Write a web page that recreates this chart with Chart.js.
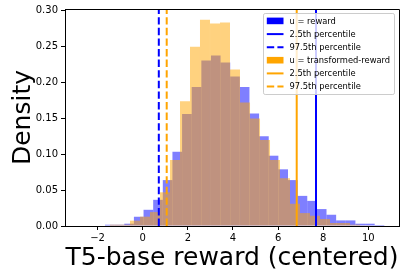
<!DOCTYPE html>
<html>
<head>
<meta charset="utf-8">
<script src="https://cdn.jsdelivr.net/npm/chart.js@4/dist/chart.umd.min.js"></script>
<style>
  html, body { margin: 0; padding: 0; background: #ffffff; }
  #wrap { width: 406px; height: 278px; position: relative; }
</style>
</head>
<body>
<div id="wrap"><canvas id="c" width="406" height="278"></canvas></div>
<script>
// ---- data ----
const rewardBinCenters = [-1.458, -1.031, -0.604, -0.177, 0.250, 0.677, 1.104, 1.531, 1.958, 2.385,
  2.812, 3.238, 3.665, 4.092, 4.519, 4.946, 5.373, 5.800, 6.227, 6.654,
  7.081, 7.507, 7.934, 8.361, 8.788, 9.215, 9.642, 10.069, 10.496];
const rewardDensity = [0.0018, 0.0018, 0.0032, 0.0129, 0.0226, 0.0365, 0.064, 0.1035, 0.156, 0.1937,
  0.2307, 0.2376, 0.2279, 0.2084, 0.1937, 0.157, 0.125, 0.098, 0.079, 0.064,
  0.042, 0.035, 0.0236, 0.0157, 0.0078, 0.0078, 0.0032, 0.0032, 0.0014];

const transformedBinCenters = [-1.228, -0.785, -0.342, 0.101, 0.545, 0.988, 1.431, 1.875, 2.318, 2.761,
  3.205, 3.648, 4.091, 4.535, 4.978, 5.421, 5.864, 6.308, 6.751, 7.194,
  7.638, 8.081, 8.524, 8.968, 9.411, 9.854];
const transformedDensity = [0.0018, 0.0018, 0.0074, 0.013, 0.0194, 0.047, 0.092, 0.1738, 0.25, 0.2875,
  0.2824, 0.2838, 0.2182, 0.172, 0.15, 0.12, 0.092, 0.0666, 0.031, 0.018,
  0.0143, 0.0097, 0.0042, 0.0042, 0.0018, 0.0009];

// vertical percentile lines, in legend order [solid, dashed]
const rewardPercentiles = [7.682, 0.714];
const transformedPercentiles = [6.826, 1.064];

const seriesLabels = ['u = reward', 'u = transformed-reward'];
const percentileLabels = ['2.5th percentile', '97.5th percentile'];
const xTicks = [-2, 0, 2, 4, 6, 8, 10];
const yTicks = [0, 0.05, 0.10, 0.15, 0.20, 0.25, 0.30];
const xTitle = 'T5-base reward (centered)';
const yTitle = 'Density';

// ---- styling ----
const X_MIN = -3.444, X_MAX = 11.36, Y_MAX = 0.3025;
const BLUE = '#0000ff', ORANGE = '#ffa500';
const DASH = [7.4, 3.2];
const FONT = 'DejaVu Sans';

Chart.defaults.font.family = FONT;
Chart.defaults.color = '#000';

const fmtX = v => (v < 0 ? '\u2212' + Math.abs(v) : String(v));

function vline(x, label, color, dash, order) {
  return {
    type: 'line', label, xAxisID: 'x', yAxisID: 'y',
    data: [{ x: x, y: 0 }, { x: x, y: Y_MAX }],
    borderColor: color, backgroundColor: color, borderWidth: 2,
    borderDash: dash, pointRadius: 0, fill: false, order,
    legendKind: 'line'
  };
}

const datasets = [
  { type: 'bar', label: seriesLabels[0], xAxisID: 'x', yAxisID: 'y',
    data: rewardBinCenters.map((x, i) => ({ x, y: rewardDensity[i] })),
    backgroundColor: 'rgba(0,0,255,0.5)', borderWidth: 0, inflateAmount: 0,
    barPercentage: 1, categoryPercentage: 1, grouped: false, order: 10,
    legendKind: 'box', legendColor: BLUE },
  vline(rewardPercentiles[0], percentileLabels[0], BLUE, [], 4),
  vline(rewardPercentiles[1], percentileLabels[1], BLUE, DASH, 3),
  { type: 'bar', label: seriesLabels[1], xAxisID: 'x2', yAxisID: 'y',
    data: transformedBinCenters.map((x, i) => ({ x, y: transformedDensity[i] })),
    backgroundColor: 'rgba(255,165,0,0.5)', borderWidth: 0, inflateAmount: 0,
    barPercentage: 1, categoryPercentage: 1, grouped: false, order: 9,
    legendKind: 'box', legendColor: ORANGE },
  vline(transformedPercentiles[0], percentileLabels[0], ORANGE, [], 2),
  vline(transformedPercentiles[1], percentileLabels[1], ORANGE, DASH, 1)
];

const spinePlugin = {
  id: 'spines',
  afterDatasetsDraw(chart) {
    const { ctx, chartArea: a } = chart;
    ctx.save();
    ctx.strokeStyle = '#000';
    ctx.lineWidth = 1;
    ctx.beginPath();
    const top = Math.round(a.top) + 0.5;
    const right = Math.round(a.right) + 0.5;
    ctx.moveTo(Math.round(a.left), top);
    ctx.lineTo(right, top);
    ctx.lineTo(right, Math.round(a.bottom) + 1);
    ctx.stroke();
    ctx.restore();
  }
};

const legendPlugin = {
  id: 'insideLegend',
  afterDraw(chart) {
    const { ctx } = chart;
    const ds = chart.data.datasets;
    const box = { x: 263.5, y: 13.5, w: 131, h: 81, r: 1.7 };
    ctx.save();
    ctx.beginPath();
    ctx.roundRect(box.x, box.y, box.w, box.h, box.r);
    ctx.fillStyle = 'rgba(255,255,255,0.8)';
    ctx.fill();
    ctx.strokeStyle = '#cccccc';
    ctx.lineWidth = 1;
    ctx.stroke();
    ds.forEach((d, i) => {
      const cy = 21 + i * 13.1;
      const hx0 = 266.8, hx1 = 283.5;
      if (d.legendKind === 'box') {
        ctx.fillStyle = d.legendColor;
        ctx.fillRect(hx0, cy - 3.4, hx1 - hx0, 6.6);
      } else {
        ctx.beginPath();
        ctx.strokeStyle = d.borderColor;
        ctx.lineWidth = 2;
        ctx.setLineDash(d.borderDash || []);
        ctx.moveTo(hx0, cy);
        ctx.lineTo(hx1, cy);
        ctx.stroke();
        ctx.setLineDash([]);
      }
      ctx.fillStyle = '#000';
      ctx.font = '8.33px "' + FONT + '"';
      ctx.textBaseline = 'middle';
      ctx.textAlign = 'left';
      ctx.fillText(d.label, 289.5, cy + 0.5);
    });
    ctx.restore();
  }
};

const axisGrid = { display: true, offset: false, drawOnChartArea: false, drawTicks: true, tickLength: 4, tickColor: '#000', tickWidth: 1, color: '#000' };
const axisBorder = { display: true, color: '#000', width: 1 };

new Chart(document.getElementById('c'), {
  data: { datasets },
  options: {
    responsive: false,
    animation: false,
    devicePixelRatio: 1,
    layout: { padding: { top: 8, right: 7, left: 0, bottom: 0 } },
    plugins: { legend: { display: false }, tooltip: { enabled: false } },
    scales: {
      x: {
        type: 'linear', position: 'bottom', min: X_MIN, max: X_MAX, offset: false, bounds: 'data',
        afterBuildTicks: s => { s.ticks = xTicks.map(v => ({ value: v })); },
        afterFit: s => { s.height = 52; },
        ticks: { callback: v => fmtX(v), font: { size: 10, family: FONT }, color: '#000', padding: 2, maxRotation: 0, autoSkip: false },
        grid: axisGrid, border: axisBorder,
        title: { display: true, text: xTitle, font: { size: 25, family: FONT }, color: '#000', padding: { top: 0, bottom: 5 } }
      },
      x2: {
        type: 'linear', position: 'bottom', min: X_MIN, max: X_MAX, display: false, offset: false, bounds: 'data',
        grid: { offset: false },
        afterBuildTicks: s => { s.ticks = xTicks.map(v => ({ value: v })); }
      },
      y: {
        type: 'linear', position: 'left', min: 0, max: Y_MAX,
        afterBuildTicks: s => { s.ticks = yTicks.map(v => ({ value: v })); },
        afterFit: s => { s.width = 65; },
        ticks: { callback: v => v.toFixed(2), font: { size: 10, family: FONT }, color: '#000', padding: 3 },
        grid: axisGrid, border: axisBorder,
        title: { display: true, text: yTitle, font: { size: 25, family: FONT }, color: '#000', padding: { top: 8, bottom: 0 } }
      }
    }
  },
  plugins: [spinePlugin, legendPlugin]
});
</script>
</body>
</html>
